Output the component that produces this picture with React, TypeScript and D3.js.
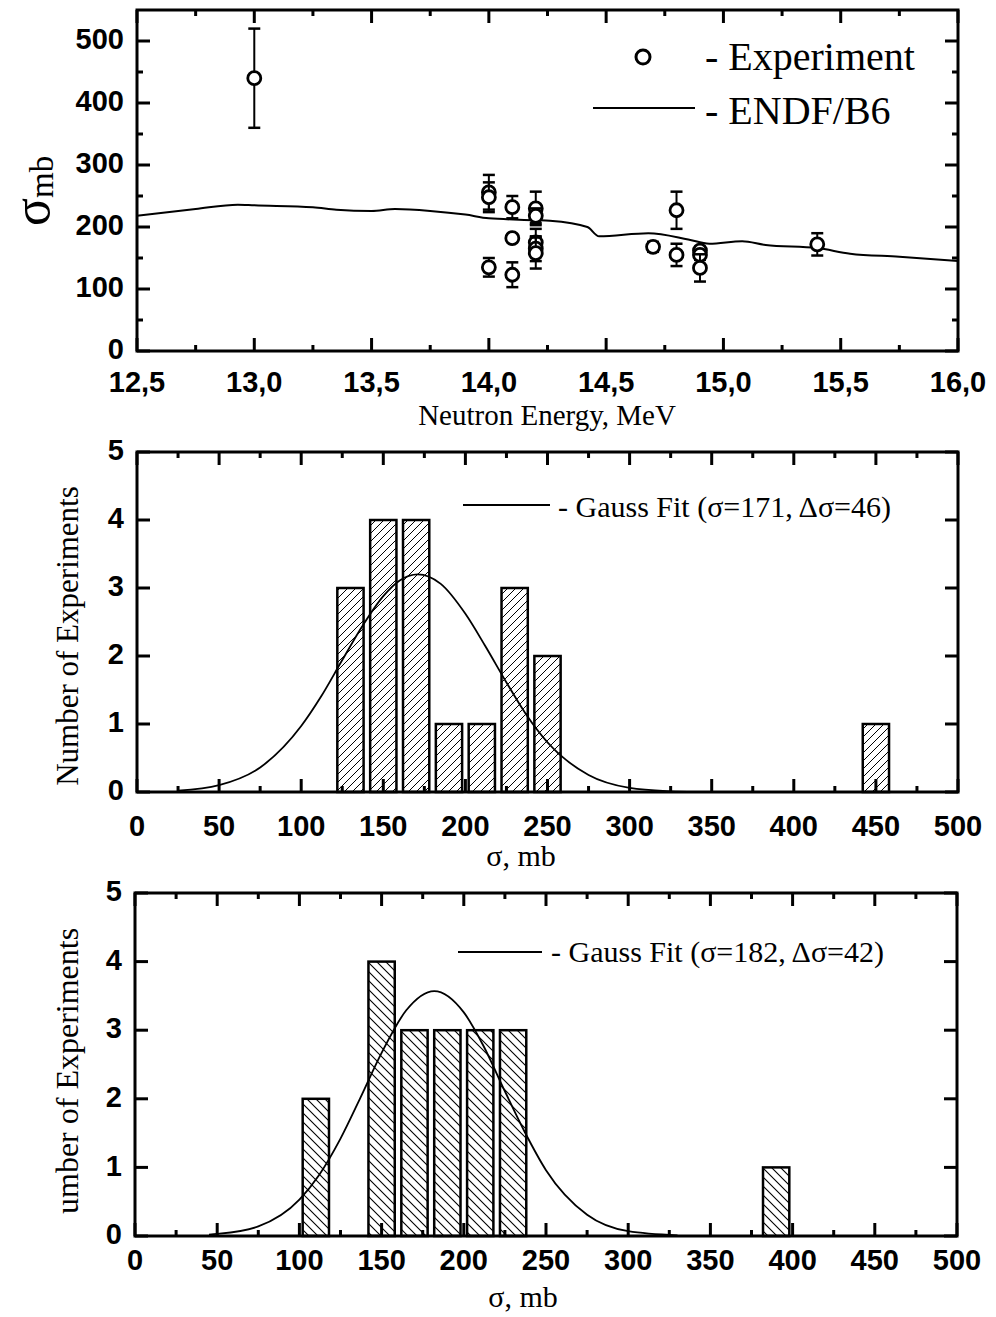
import React from "react";
import * as d3 from "d3";

const W = 996;
const H = 1317;

// top panel: measured cross sections (energy MeV, sigma mb, error mb)
const expEnergy = [13.0, 14.0, 14.0, 14.0, 14.1, 14.1, 14.1, 14.2, 14.2, 14.2, 14.2, 14.2, 14.7, 14.8, 14.8, 14.9, 14.9, 14.9, 15.4];
const expSigma = [440, 256, 248, 135, 232, 182, 123, 230, 218, 175, 165, 158, 168, 227, 155, 162, 155, 134, 172];
const expError = [80, 28, 24, 15, 18, 6, 20, 27, 12, 22, 20, 25, 8, 30, 18, 6, 8, 22, 18];

// ENDF/B6 evaluation
const endfEnergy = [12.5, 12.75, 12.93, 13.0, 13.25, 13.35, 13.5, 13.6, 13.75, 13.9, 14.0, 14.2, 14.26, 14.42, 14.47, 14.68, 14.85, 14.94, 15.08, 15.18, 15.4, 15.54, 15.75, 16.0];
const endfSigma = [218, 229, 236, 235, 232, 228, 226, 229, 226, 220, 214, 211, 210, 200, 185, 190, 180, 173, 177, 171, 166, 157, 152, 145];

const energyTicks = [12.5, 13.0, 13.5, 14.0, 14.5, 15.0, 15.5, 16.0];
const energyMinor = [12.75, 13.25, 13.75, 14.25, 14.75, 15.25, 15.75];
const sigmaTicks = [0, 100, 200, 300, 400, 500];
const sigmaMinor = [50, 150, 250, 350, 450];

// middle panel histogram
const hist1Centers = [130, 150, 170, 190, 210, 230, 250, 450];
const hist1Counts = [3, 4, 4, 1, 1, 3, 2, 1];
const gauss1X = [25, 50, 75, 100, 112, 125, 137, 150, 160, 171, 185, 200, 212, 225, 237, 250, 275, 300, 325, 340];
const gauss1Y = [0.02, 0.1, 0.36, 0.97, 1.4, 1.94, 2.43, 2.88, 3.11, 3.2, 3.06, 2.62, 2.15, 1.61, 1.14, 0.73, 0.25, 0.06, 0.01, 0.0];

// bottom panel histogram
const hist2Centers = [110, 150, 170, 190, 210, 230, 390];
const hist2Counts = [2, 4, 3, 3, 3, 3, 1];
const gauss2X = [45, 50, 75, 100, 112, 125, 137, 150, 165, 182, 200, 212, 225, 237, 250, 275, 300, 330];
const gauss2Y = [0.02, 0.03, 0.14, 0.53, 0.89, 1.42, 2.01, 2.67, 3.29, 3.57, 3.26, 2.77, 2.11, 1.52, 0.96, 0.31, 0.07, 0.01];

const countTicks = [0, 1, 2, 3, 4, 5];
const mbTicks = [0, 50, 100, 150, 200, 250, 300, 350, 400, 450, 500];
const mbMinor = [25, 75, 125, 175, 225, 275, 325, 375, 425, 475];

const SERIF = "'Liberation Serif', 'Times New Roman', serif";
const SANS = "'Liberation Sans', Arial, sans-serif";

type FrameProps = {
  x: d3.ScaleLinear<number, number>;
  y: d3.ScaleLinear<number, number>;
  xMajor: number[];
  xMinor: number[];
  yMajor: number[];
  yMinor: number[];
  fmtX: (v: number) => string;
  labelY: number;
};

const Frame = ({ x, y, xMajor, xMinor, yMajor, yMinor, fmtX, labelY }: FrameProps) => {
  const [x0, x1] = x.range();
  const [y0, y1] = y.range(); // y0 bottom, y1 top
  const big = 13;
  const small = 6;
  return (
    <g stroke="#000" strokeWidth={3}>
      {xMajor.map((v) => (
        <g key={"xM" + v}>
          <line x1={x(v)} x2={x(v)} y1={y0} y2={y0 - big} />
          <line x1={x(v)} x2={x(v)} y1={y1} y2={y1 + big} />
          <text x={x(v)} y={labelY} textAnchor="middle" stroke="none" fill="#000"
            fontFamily={SANS} fontWeight="bold" fontSize={29}>{fmtX(v)}</text>
        </g>
      ))}
      {xMinor.map((v) => (
        <g key={"xm" + v}>
          <line x1={x(v)} x2={x(v)} y1={y0} y2={y0 - small} />
          <line x1={x(v)} x2={x(v)} y1={y1} y2={y1 + small} />
        </g>
      ))}
      {yMajor.map((v) => (
        <g key={"yM" + v}>
          <line x1={x0} x2={x0 + big} y1={y(v)} y2={y(v)} />
          <line x1={x1} x2={x1 - big} y1={y(v)} y2={y(v)} />
          <text x={x0 - 13} y={y(v)} dy="0.28em" textAnchor="end" stroke="none" fill="#000"
            fontFamily={SANS} fontWeight="bold" fontSize={29}>{v}</text>
        </g>
      ))}
      {yMinor.map((v) => (
        <g key={"ym" + v}>
          <line x1={x0} x2={x0 + small} y1={y(v)} y2={y(v)} />
          <line x1={x1} x2={x1 - small} y1={y(v)} y2={y(v)} />
        </g>
      ))}
      <rect x={x0} y={y1} width={x1 - x0} height={y0 - y1} fill="none" />
    </g>
  );
};

const App = () => {
  // top panel scales
  const xE = d3.scaleLinear().domain([12.5, 16]).range([137, 958]);
  const yS = d3.scaleLinear().domain([0, 550]).range([351, 10]);
  const endfLine = d3
    .line<number>()
    .x((d, i) => xE(endfEnergy[i]))
    .y((d) => yS(d))
    .curve(d3.curveMonotoneX);

  // histogram scales
  const x1 = d3.scaleLinear().domain([0, 500]).range([137, 958]);
  const y1 = d3.scaleLinear().domain([0, 5]).range([792, 452]);
  const x2 = d3.scaleLinear().domain([0, 500]).range([135, 957]);
  const y2 = d3.scaleLinear().domain([0, 5]).range([1236, 893]);
  const g1 = d3.line<number>().x((d, i) => x1(gauss1X[i])).y((d) => y1(d)).curve(d3.curveMonotoneX);
  const g2 = d3.line<number>().x((d, i) => x2(gauss2X[i])).y((d) => y2(d)).curve(d3.curveMonotoneX);
  const halfBar = 8; // bar half-width in mb

  const commaFmt = (v: number) => d3.format(".1f")(v).replace(".", ",");

  return (
    <svg width={W} height={H} style={{ position: "absolute", left: 0, top: 0, background: "#fff" }}>
      <defs>
        <pattern id="hatchUp" patternUnits="userSpaceOnUse" width={8} height={8}>
          <path d="M-2,2 l4,-4 M0,8 l8,-8 M6,10 l4,-4" stroke="#000" strokeWidth={1} />
        </pattern>
        <pattern id="hatchDown" patternUnits="userSpaceOnUse" width={9} height={9}>
          <path d="M-2,7 l4,4 M0,0 l9,9 M7,-2 l4,4" stroke="#000" strokeWidth={1.1} />
        </pattern>
      </defs>

      {/* ---------- top panel ---------- */}
      <path d={endfLine(endfSigma) || ""} fill="none" stroke="#000" strokeWidth={2} />
      <g stroke="#000" fill="none">
        {expSigma.map((s, i) => {
          const cx = xE(expEnergy[i]);
          const top = yS(s + expError[i]);
          const bot = yS(s - expError[i]);
          return (
            <g key={i}>
              <line x1={cx} x2={cx} y1={top} y2={bot} strokeWidth={2} />
              <line x1={cx - 6} x2={cx + 6} y1={top} y2={top} strokeWidth={2.5} />
              <line x1={cx - 6} x2={cx + 6} y1={bot} y2={bot} strokeWidth={2.5} />
              <circle cx={cx} cy={yS(s)} r={6.5} strokeWidth={2.8} fill="#fff" />
            </g>
          );
        })}
      </g>
      <Frame x={xE} y={yS} xMajor={energyTicks} xMinor={energyMinor} yMajor={sigmaTicks}
        yMinor={sigmaMinor} fmtX={commaFmt} labelY={392} />
      {/* legend */}
      <circle cx={643} cy={57} r={7} fill="none" stroke="#000" strokeWidth={3} />
      <text x={705} y={70} fontFamily={SERIF} fontSize={40}>- Experiment</text>
      <line x1={593} x2={695} y1={108} y2={108} stroke="#000" strokeWidth={2} />
      <text x={705} y={124} fontFamily={SERIF} fontSize={40}>- ENDF/B6</text>
      <text x={547} y={425} textAnchor="middle" fontFamily={SERIF} fontSize={29}>Neutron Energy, MeV</text>
      <text transform="translate(49,226) rotate(-90)" fontFamily={SERIF} fontSize={52}>
        σ<tspan fontSize={33} dy={4}>mb</tspan>
      </text>

      {/* ---------- middle panel ---------- */}
      <g stroke="#000" strokeWidth={2.5}>
        {hist1Counts.map((c, i) => (
          <rect key={i} x={x1(hist1Centers[i] - halfBar)} y={y1(c)}
            width={x1(hist1Centers[i] + halfBar) - x1(hist1Centers[i] - halfBar)}
            height={y1(0) - y1(c)} fill="url(#hatchUp)" />
        ))}
      </g>
      <path d={g1(gauss1Y) || ""} fill="none" stroke="#000" strokeWidth={1.8} />
      <Frame x={x1} y={y1} xMajor={mbTicks} xMinor={mbMinor} yMajor={countTicks}
        yMinor={[]} fmtX={(v) => String(v)} labelY={836} />
      <line x1={463} x2={550} y1={505} y2={505} stroke="#000" strokeWidth={1.8} />
      <text x={558} y={517} fontFamily={SERIF} fontSize={30}>- Gauss Fit (σ=171, Δσ=46)</text>
      <text x={521} y={866} textAnchor="middle" fontFamily={SERIF} fontSize={30}>σ, mb</text>
      <text transform="translate(78,636) rotate(-90)" textAnchor="middle" fontFamily={SERIF} fontSize={31}>
        Number of Experiments
      </text>

      {/* ---------- bottom panel ---------- */}
      <g stroke="#000" strokeWidth={2.5}>
        {hist2Counts.map((c, i) => (
          <rect key={i} x={x2(hist2Centers[i] - halfBar)} y={y2(c)}
            width={x2(hist2Centers[i] + halfBar) - x2(hist2Centers[i] - halfBar)}
            height={y2(0) - y2(c)} fill="url(#hatchDown)" />
        ))}
      </g>
      <path d={g2(gauss2Y) || ""} fill="none" stroke="#000" strokeWidth={1.8} />
      <Frame x={x2} y={y2} xMajor={mbTicks} xMinor={mbMinor} yMajor={countTicks}
        yMinor={[]} fmtX={(v) => String(v)} labelY={1270} />
      <line x1={458} x2={542} y1={952} y2={952} stroke="#000" strokeWidth={1.8} />
      <text x={551} y={962} fontFamily={SERIF} fontSize={30}>- Gauss Fit (σ=182, Δσ=42)</text>
      <text x={523} y={1307} textAnchor="middle" fontFamily={SERIF} fontSize={30}>σ, mb</text>
      <text transform="translate(78,1214) rotate(-90)" fontFamily={SERIF} fontSize={32}>
        umber of Experiments
      </text>
    </svg>
  );
};

export default App;
